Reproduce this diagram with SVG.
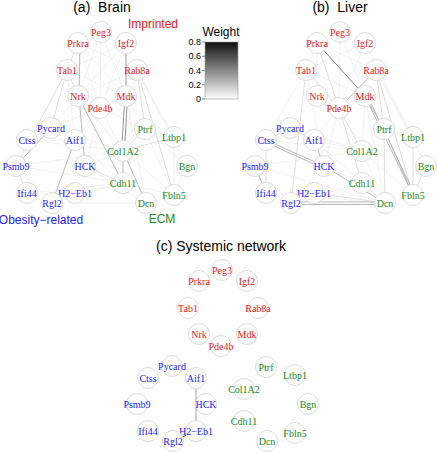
<svg xmlns="http://www.w3.org/2000/svg" width="437" height="453" viewBox="0 0 437 453">
<style>
.n circle{fill:#fff;stroke:#dcdcdc;stroke-width:1}
.n text{font-family:"Liberation Serif",serif;font-size:10px;text-anchor:middle}
.r text{fill:#e41a1c}
.b text{fill:#2222ff}
.g text{fill:#228b22}
.t{font-family:"Liberation Sans",Arial,sans-serif;fill:#000;white-space:pre}
.w1 line{stroke:#eeeeee;stroke-width:0.8}
.w2 line{stroke:#dadada;stroke-width:0.9}
.w3 line{stroke:#b9b9b9;stroke-width:1}
.w4 line{stroke:#979797;stroke-width:1}
.lg{font-family:"Liberation Sans",Arial,sans-serif;font-size:9px;text-anchor:end}
</style>
<defs>
<linearGradient id="wg" x1="0" y1="0" x2="0" y2="1">
<stop offset="0" stop-color="#111"/>
<stop offset="1" stop-color="#fff"/>
</linearGradient>
</defs>
<rect width="437" height="453" fill="#fff"/>

<g id="titles">
<text class="t" x="102" y="12" font-size="14" text-anchor="middle">(a)  Brain</text>
<text class="t" x="340" y="12" font-size="14" text-anchor="middle">(b)  Liver</text>
<text class="t" x="221" y="251" font-size="14" text-anchor="middle">(c) Systemic network</text>
<text class="t" x="153" y="27.5" font-size="12" text-anchor="middle" style="fill:#e41a1c">Imprinted</text>
<text class="t" x="41" y="224" font-size="12" text-anchor="middle" style="fill:#2222ff">Obesity−related</text>
<text class="t" x="162" y="223" font-size="12" text-anchor="middle" style="fill:#228b22">ECM</text>
</g>

<g id="legend">
<text class="t" x="221" y="35.5" font-size="12" text-anchor="middle">Weight</text>
<rect x="205" y="42" width="33" height="57" fill="url(#wg)" stroke="#9a9a9a" stroke-width="0.6"/>
<g stroke="#555" stroke-width="0.7">
<line x1="202" y1="42" x2="205" y2="42"/>
<line x1="202" y1="56.25" x2="205" y2="56.25"/>
<line x1="202" y1="70.5" x2="205" y2="70.5"/>
<line x1="202" y1="84.75" x2="205" y2="84.75"/>
<line x1="202" y1="99" x2="205" y2="99"/>
</g>
<text class="lg" x="201" y="45.2">0.8</text>
<text class="lg" x="201" y="59.4">0.6</text>
<text class="lg" x="201" y="73.7">0.4</text>
<text class="lg" x="201" y="87.9">0.2</text>
<text class="lg" x="201" y="102.2">0</text>
</g>

<g id="connectors">
<g id="edges-brain">
<g class="w1">
<line x1="101" y1="32" x2="100" y2="108"/>
<line x1="101" y1="32" x2="126" y2="96"/>
<line x1="101" y1="32" x2="78" y2="96"/>
<line x1="78" y1="43" x2="126" y2="96"/>
<line x1="78" y1="43" x2="137" y2="70"/>
<line x1="78" y1="43" x2="100" y2="108"/>
<line x1="126" y1="43" x2="78" y2="96"/>
<line x1="126" y1="43" x2="67" y2="70"/>
<line x1="126" y1="43" x2="100" y2="108"/>
<line x1="67" y1="70" x2="126" y2="96"/>
<line x1="67" y1="70" x2="100" y2="108"/>
<line x1="67" y1="70" x2="75" y2="140"/>
<line x1="137" y1="70" x2="78" y2="96"/>
<line x1="137" y1="70" x2="123" y2="151"/>
<line x1="137" y1="70" x2="174" y2="137"/>
<line x1="137" y1="70" x2="187" y2="166"/>
<line x1="78" y1="96" x2="51" y2="128"/>
<line x1="78" y1="96" x2="123" y2="151"/>
<line x1="126" y1="96" x2="145" y2="129"/>
<line x1="126" y1="96" x2="146" y2="203"/>
<line x1="100" y1="108" x2="51" y2="128"/>
<line x1="100" y1="108" x2="75" y2="140"/>
<line x1="100" y1="108" x2="123" y2="151"/>
<line x1="100" y1="108" x2="145" y2="129"/>
<line x1="100" y1="108" x2="85" y2="166"/>
<line x1="51" y1="128" x2="85" y2="166"/>
<line x1="51" y1="128" x2="123" y2="151"/>
<line x1="27" y1="140" x2="123" y2="151"/>
<line x1="27" y1="140" x2="75" y2="140"/>
<line x1="16" y1="166" x2="123" y2="183"/>
<line x1="16" y1="166" x2="123" y2="151"/>
<line x1="16" y1="166" x2="52" y2="203"/>
<line x1="27" y1="193" x2="123" y2="183"/>
<line x1="85" y1="166" x2="146" y2="203"/>
<line x1="85" y1="166" x2="123" y2="151"/>
<line x1="75" y1="193" x2="123" y2="183"/>
<line x1="52" y1="203" x2="146" y2="203"/>
<line x1="52" y1="203" x2="123" y2="183"/>
<line x1="75" y1="140" x2="123" y2="183"/>
<line x1="145" y1="129" x2="174" y2="195"/>
<line x1="174" y1="137" x2="174" y2="195"/>
<line x1="187" y1="166" x2="174" y2="195"/>
<line x1="145" y1="129" x2="174" y2="137"/>
<line x1="123" y1="183" x2="146" y2="203"/>
<line x1="123" y1="183" x2="174" y2="195"/>
<line x1="145" y1="129" x2="187" y2="166"/>
<line x1="123" y1="151" x2="174" y2="195"/>
</g>
<g class="w2">
<line x1="67" y1="70" x2="16" y2="166"/>
<line x1="16" y1="166" x2="27" y2="193"/>
<line x1="78" y1="43" x2="67" y2="70"/>
<line x1="67" y1="70" x2="78" y2="96"/>
<line x1="123" y1="151" x2="174" y2="137"/>
<line x1="123" y1="151" x2="145" y2="129"/>
<line x1="137" y1="70" x2="145" y2="129"/>
<line x1="85" y1="166" x2="123" y2="183"/>
<line x1="67" y1="70" x2="51" y2="128"/>
<line x1="137" y1="70" x2="174" y2="195"/>
</g>
<g class="w3">
<line x1="80" y1="44" x2="79" y2="96"/>
<line x1="79" y1="96" x2="85" y2="166"/>
<line x1="78" y1="96" x2="123" y2="183"/>
<line x1="123" y1="151" x2="123" y2="183"/>
<line x1="123" y1="151" x2="146" y2="203"/>
<line x1="75" y1="140" x2="52" y2="203"/>
<line x1="51" y1="128" x2="16" y2="166"/>
</g>
<g class="w4">
<line x1="126" y1="43" x2="126" y2="96"/>
<line x1="125" y1="96" x2="121.5" y2="151"/>
<line x1="127.5" y1="96" x2="124.5" y2="151"/>
</g>
</g>

<g id="edges-liver" transform="translate(239,0)">
<g class="w1">
<line x1="101" y1="32" x2="100" y2="108"/>
<line x1="101" y1="32" x2="126" y2="96"/>
<line x1="78" y1="43" x2="137" y2="70"/>
<line x1="126" y1="43" x2="67" y2="70"/>
<line x1="126" y1="43" x2="100" y2="108"/>
<line x1="67" y1="70" x2="126" y2="96"/>
<line x1="67" y1="70" x2="27" y2="140"/>
<line x1="78" y1="96" x2="123" y2="151"/>
<line x1="100" y1="108" x2="85" y2="166"/>
<line x1="100" y1="108" x2="75" y2="140"/>
<line x1="51" y1="128" x2="123" y2="151"/>
<line x1="27" y1="140" x2="123" y2="151"/>
<line x1="16" y1="166" x2="123" y2="151"/>
<line x1="16" y1="166" x2="146" y2="203"/>
<line x1="27" y1="193" x2="146" y2="203"/>
<line x1="85" y1="166" x2="123" y2="183"/>
<line x1="75" y1="140" x2="123" y2="151"/>
<line x1="123" y1="151" x2="146" y2="203"/>
<line x1="123" y1="183" x2="146" y2="203"/>
<line x1="145" y1="129" x2="174" y2="137"/>
<line x1="137" y1="70" x2="187" y2="166"/>
<line x1="137" y1="70" x2="174" y2="137"/>
<line x1="126" y1="96" x2="123" y2="151"/>
<line x1="126" y1="96" x2="146" y2="203"/>
<line x1="123" y1="151" x2="174" y2="195"/>
<line x1="75" y1="140" x2="146" y2="203"/>
<line x1="174" y1="137" x2="187" y2="166"/>
<line x1="126" y1="43" x2="174" y2="137"/>
<line x1="16" y1="166" x2="52" y2="203"/>
<line x1="52" y1="203" x2="123" y2="183"/>
<line x1="78" y1="43" x2="78" y2="96"/>
<line x1="67" y1="70" x2="85" y2="166"/>
</g>
<g class="w2">
<line x1="67" y1="70" x2="100" y2="108"/>
<line x1="67" y1="70" x2="52" y2="203"/>
<line x1="27" y1="140" x2="27" y2="193"/>
<line x1="100" y1="108" x2="123" y2="151"/>
<line x1="100" y1="108" x2="123" y2="183"/>
<line x1="137" y1="70" x2="174" y2="195"/>
<line x1="174" y1="137" x2="174" y2="195"/>
<line x1="187" y1="166" x2="174" y2="195"/>
<line x1="75" y1="193" x2="146" y2="203"/>
<line x1="137" y1="70" x2="145" y2="129"/>
<line x1="51" y1="128" x2="75" y2="140"/>
<line x1="78" y1="43" x2="100" y2="108"/>
<line x1="145" y1="129" x2="146" y2="203"/>
<line x1="27" y1="140" x2="51" y2="128"/>
</g>
<g class="w3">
<line x1="137" y1="70" x2="100" y2="108"/>
<line x1="126" y1="96" x2="174" y2="195"/>
<line x1="128" y1="95" x2="175.5" y2="194"/>
<line x1="126" y1="96" x2="145" y2="129"/>
<line x1="27" y1="140" x2="85" y2="166"/>
<line x1="27" y1="142.5" x2="85" y2="168.5"/>
<line x1="75" y1="140" x2="85" y2="166"/>
<line x1="16" y1="166" x2="27" y2="193"/>
<line x1="85" y1="166" x2="146" y2="203"/>
<line x1="52" y1="202" x2="146" y2="202"/>
<line x1="52" y1="204.5" x2="146" y2="204.5"/>
<line x1="145" y1="129" x2="174" y2="195"/>
</g>
<g class="w4">
<line x1="78" y1="43" x2="126" y2="96" style="stroke:#7f7f7f"/>
</g>
</g>

<g id="edges-systemic" transform="translate(121,238)">
<line x1="75" y1="140" x2="75" y2="193" stroke="#9c9c9c" stroke-width="1"/>
<line x1="52" y1="203" x2="75" y2="193" stroke="#444" stroke-width="1"/>
</g>
</g>

<g id="nodes">
<g id="nodes-brain">
<g id="a-Peg3" class="n r"><circle cx="101" cy="32" r="10.5"/><text x="101" y="35.5">Peg3</text></g>
<g id="a-Prkra" class="n r"><circle cx="78" cy="43" r="10.5"/><text x="78" y="46.5">Prkra</text></g>
<g id="a-Igf2" class="n r"><circle cx="126" cy="43" r="10.5"/><text x="126" y="46.5">Igf2</text></g>
<g id="a-Tab1" class="n r"><circle cx="67" cy="70" r="10.5"/><text x="67" y="73.5">Tab1</text></g>
<g id="a-Rab8a" class="n r"><circle cx="137" cy="70" r="10.5"/><text x="137" y="73.5">Rab8a</text></g>
<g id="a-Nrk" class="n r"><circle cx="78" cy="96" r="10.5"/><text x="78" y="99.5">Nrk</text></g>
<g id="a-Mdk" class="n r"><circle cx="126" cy="96" r="10.5"/><text x="126" y="99.5">Mdk</text></g>
<g id="a-Pde4b" class="n r"><circle cx="100" cy="108" r="10.5"/><text x="100" y="111.5">Pde4b</text></g>
<g id="a-Pycard" class="n b"><circle cx="51" cy="128" r="10.5"/><text x="51" y="131.5">Pycard</text></g>
<g id="a-Ctss" class="n b"><circle cx="27" cy="140" r="10.5"/><text x="27" y="143.5">Ctss</text></g>
<g id="a-Aif1" class="n b"><circle cx="75" cy="140" r="10.5"/><text x="75" y="143.5">Aif1</text></g>
<g id="a-Psmb9" class="n b"><circle cx="16" cy="166" r="10.5"/><text x="16" y="169.5">Psmb9</text></g>
<g id="a-HCK" class="n b"><circle cx="85" cy="166" r="10.5"/><text x="85" y="169.5">HCK</text></g>
<g id="a-Ifi44" class="n b"><circle cx="27" cy="193" r="10.5"/><text x="27" y="196.5">Ifi44</text></g>
<g id="a-H2-Eb1" class="n b"><circle cx="75" cy="193" r="10.5"/><text x="75" y="196.5">H2−Eb1</text></g>
<g id="a-Rgl2" class="n b"><circle cx="52" cy="203" r="10.5"/><text x="52" y="206.5">Rgl2</text></g>
<g id="a-Ptrf" class="n g"><circle cx="145" cy="129" r="10.5"/><text x="145" y="132.5">Ptrf</text></g>
<g id="a-Ltbp1" class="n g"><circle cx="174" cy="137" r="10.5"/><text x="174" y="140.5">Ltbp1</text></g>
<g id="a-Col1A2" class="n g"><circle cx="123" cy="151" r="10.5"/><text x="123" y="154.5">Col1A2</text></g>
<g id="a-Bgn" class="n g"><circle cx="187" cy="166" r="10.5"/><text x="187" y="169.5">Bgn</text></g>
<g id="a-Cdh11" class="n g"><circle cx="123" cy="183" r="10.5"/><text x="123" y="186.5">Cdh11</text></g>
<g id="a-Fbln5" class="n g"><circle cx="174" cy="195" r="10.5"/><text x="174" y="198.5">Fbln5</text></g>
<g id="a-Dcn" class="n g"><circle cx="146" cy="203" r="10.5"/><text x="146" y="206.5">Dcn</text></g>
</g>

<g id="nodes-liver" transform="translate(239,0)">
<g id="b-Peg3" class="n r"><circle cx="101" cy="32" r="10.5"/><text x="101" y="35.5">Peg3</text></g>
<g id="b-Prkra" class="n r"><circle cx="78" cy="43" r="10.5"/><text x="78" y="46.5">Prkra</text></g>
<g id="b-Igf2" class="n r"><circle cx="126" cy="43" r="10.5"/><text x="126" y="46.5">Igf2</text></g>
<g id="b-Tab1" class="n r"><circle cx="67" cy="70" r="10.5"/><text x="67" y="73.5">Tab1</text></g>
<g id="b-Rab8a" class="n r"><circle cx="137" cy="70" r="10.5"/><text x="137" y="73.5">Rab8a</text></g>
<g id="b-Nrk" class="n r"><circle cx="78" cy="96" r="10.5"/><text x="78" y="99.5">Nrk</text></g>
<g id="b-Mdk" class="n r"><circle cx="126" cy="96" r="10.5"/><text x="126" y="99.5">Mdk</text></g>
<g id="b-Pde4b" class="n r"><circle cx="100" cy="108" r="10.5"/><text x="100" y="111.5">Pde4b</text></g>
<g id="b-Pycard" class="n b"><circle cx="51" cy="128" r="10.5"/><text x="51" y="131.5">Pycard</text></g>
<g id="b-Ctss" class="n b"><circle cx="27" cy="140" r="10.5"/><text x="27" y="143.5">Ctss</text></g>
<g id="b-Aif1" class="n b"><circle cx="75" cy="140" r="10.5"/><text x="75" y="143.5">Aif1</text></g>
<g id="b-Psmb9" class="n b"><circle cx="16" cy="166" r="10.5"/><text x="16" y="169.5">Psmb9</text></g>
<g id="b-HCK" class="n b"><circle cx="85" cy="166" r="10.5"/><text x="85" y="169.5">HCK</text></g>
<g id="b-Ifi44" class="n b"><circle cx="27" cy="193" r="10.5"/><text x="27" y="196.5">Ifi44</text></g>
<g id="b-H2-Eb1" class="n b"><circle cx="75" cy="193" r="10.5"/><text x="75" y="196.5">H2−Eb1</text></g>
<g id="b-Rgl2" class="n b"><circle cx="52" cy="203" r="10.5"/><text x="52" y="206.5">Rgl2</text></g>
<g id="b-Ptrf" class="n g"><circle cx="145" cy="129" r="10.5"/><text x="145" y="132.5">Ptrf</text></g>
<g id="b-Ltbp1" class="n g"><circle cx="174" cy="137" r="10.5"/><text x="174" y="140.5">Ltbp1</text></g>
<g id="b-Col1A2" class="n g"><circle cx="123" cy="151" r="10.5"/><text x="123" y="154.5">Col1A2</text></g>
<g id="b-Bgn" class="n g"><circle cx="187" cy="166" r="10.5"/><text x="187" y="169.5">Bgn</text></g>
<g id="b-Cdh11" class="n g"><circle cx="123" cy="183" r="10.5"/><text x="123" y="186.5">Cdh11</text></g>
<g id="b-Fbln5" class="n g"><circle cx="174" cy="195" r="10.5"/><text x="174" y="198.5">Fbln5</text></g>
<g id="b-Dcn" class="n g"><circle cx="146" cy="203" r="10.5"/><text x="146" y="206.5">Dcn</text></g>
</g>

<g id="nodes-systemic" transform="translate(121,238)">
<g id="c-Peg3" class="n r"><circle cx="101" cy="32" r="10.5"/><text x="101" y="35.5">Peg3</text></g>
<g id="c-Prkra" class="n r"><circle cx="78" cy="43" r="10.5"/><text x="78" y="46.5">Prkra</text></g>
<g id="c-Igf2" class="n r"><circle cx="126" cy="43" r="10.5"/><text x="126" y="46.5">Igf2</text></g>
<g id="c-Tab1" class="n r"><circle cx="67" cy="70" r="10.5"/><text x="67" y="73.5">Tab1</text></g>
<g id="c-Rab8a" class="n r"><circle cx="137" cy="70" r="10.5"/><text x="137" y="73.5">Rab8a</text></g>
<g id="c-Nrk" class="n r"><circle cx="78" cy="96" r="10.5"/><text x="78" y="99.5">Nrk</text></g>
<g id="c-Mdk" class="n r"><circle cx="126" cy="96" r="10.5"/><text x="126" y="99.5">Mdk</text></g>
<g id="c-Pde4b" class="n r"><circle cx="100" cy="108" r="10.5"/><text x="100" y="111.5">Pde4b</text></g>
<g id="c-Pycard" class="n b"><circle cx="51" cy="128" r="10.5"/><text x="51" y="131.5">Pycard</text></g>
<g id="c-Ctss" class="n b"><circle cx="27" cy="140" r="10.5"/><text x="27" y="143.5">Ctss</text></g>
<g id="c-Aif1" class="n b"><circle cx="75" cy="140" r="10.5"/><text x="75" y="143.5">Aif1</text></g>
<g id="c-Psmb9" class="n b"><circle cx="16" cy="166" r="10.5"/><text x="16" y="169.5">Psmb9</text></g>
<g id="c-HCK" class="n b"><circle cx="85" cy="166" r="10.5"/><text x="85" y="169.5">HCK</text></g>
<g id="c-Ifi44" class="n b"><circle cx="27" cy="193" r="10.5"/><text x="27" y="196.5">Ifi44</text></g>
<g id="c-H2-Eb1" class="n b"><circle cx="75" cy="193" r="10.5"/><text x="75" y="196.5">H2−Eb1</text></g>
<g id="c-Rgl2" class="n b"><circle cx="52" cy="203" r="10.5"/><text x="52" y="206.5">Rgl2</text></g>
<g id="c-Ptrf" class="n g"><circle cx="145" cy="129" r="10.5"/><text x="145" y="132.5">Ptrf</text></g>
<g id="c-Ltbp1" class="n g"><circle cx="174" cy="137" r="10.5"/><text x="174" y="140.5">Ltbp1</text></g>
<g id="c-Col1A2" class="n g"><circle cx="123" cy="151" r="10.5"/><text x="123" y="154.5">Col1A2</text></g>
<g id="c-Bgn" class="n g"><circle cx="187" cy="166" r="10.5"/><text x="187" y="169.5">Bgn</text></g>
<g id="c-Cdh11" class="n g"><circle cx="123" cy="183" r="10.5"/><text x="123" y="186.5">Cdh11</text></g>
<g id="c-Fbln5" class="n g"><circle cx="174" cy="195" r="10.5"/><text x="174" y="198.5">Fbln5</text></g>
<g id="c-Dcn" class="n g"><circle cx="146" cy="203" r="10.5"/><text x="146" y="206.5">Dcn</text></g>
</g>
</g>
</svg>
